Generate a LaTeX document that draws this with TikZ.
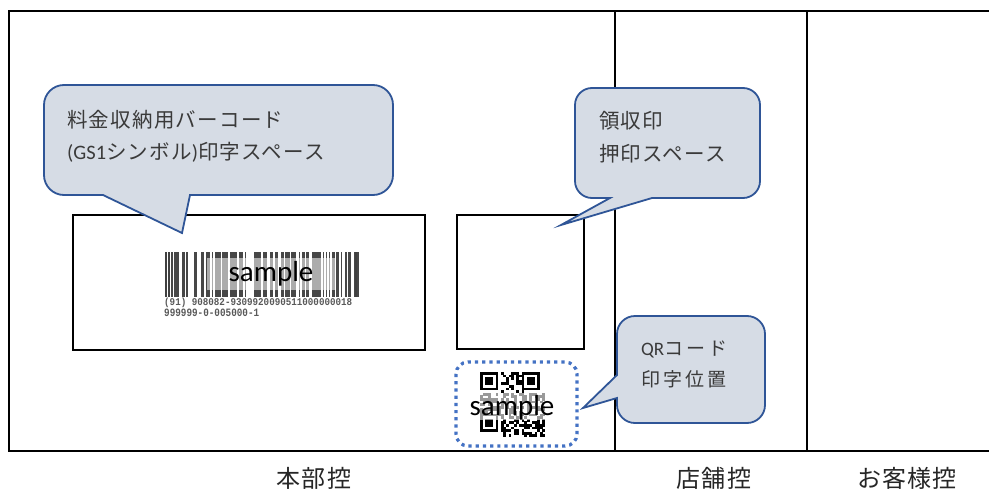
\documentclass[tikz,border=0pt]{standalone}
\usepackage{fontspec}
\usepackage{graphicx}
\setmainfont{Carlito}
\newfontfamily\jp[LetterSpace=6]{Noto Sans CJK JP}
\newfontfamily\jpq[LetterSpace=16]{Noto Sans CJK JP}
\newfontfamily\jpl[LetterSpace=5]{Noto Sans CJK JP}
\newfontfamily\lat{Carlito}
\newfontfamily\mono{Liberation Mono}
\definecolor{cfill}{HTML}{D6DCE5}
\definecolor{cline}{HTML}{2F5597}
\definecolor{qrblue}{HTML}{4472C4}
\definecolor{ctext}{HTML}{3A3A3A}
\tikzset{
  frameline/.style={line width=2.2pt, black},
  boxline/.style={draw=black, line width=1.9pt},
  callout/.style={fill=cfill, draw=cline, line width=1.8pt, line join=miter},
  ctxt/.style={anchor=west, inner sep=0pt, text=ctext, font=\fontsize{20.5}{24}\selectfont\jp},
  qtxt/.style={anchor=west, inner sep=0pt, text=ctext, font=\fontsize{19}{22}\selectfont\jpq},
  ltxt/.style={inner sep=0pt, text=black!85, font=\fontsize{24}{28}\selectfont\jpl},
  smp/.style={inner sep=0pt, text=black, font=\fontsize{29}{32}\selectfont\lat},
  digits/.style={anchor=west, inner sep=0pt, text=black!65, font=\fontsize{8.6}{9}\selectfont\mono\bfseries},
}
\begin{document}
\begin{tikzpicture}[x=1pt,y=-1pt]
\useasboundingbox (0,0) rectangle (989,490);
\fill[white] (0,0) rectangle (989,490);
% frame
\coordinate (tl) at (9,11);
\coordinate (tr) at (989,11);
\coordinate (bl) at (9,451);
\coordinate (br) at (989,451);
\coordinate (v1t) at (615,11);
\coordinate (v1b) at (615,451);
\coordinate (v2t) at (807,11);
\coordinate (v2b) at (807,451);
\draw[frameline] (tr) -- (tl) -- (bl) -- (br);
\draw[frameline] (v1t) -- (v1b);
\draw[frameline] (v2t) -- (v2b);
% boxes
\node[boxline, minimum width=352pt, minimum height=135pt, inner sep=0pt, anchor=north west] (bcbox) at (72,214) {};
\node[boxline, minimum width=127pt, minimum height=134pt, inner sep=0pt, anchor=north west] (stbox) at (456,214) {};
% barcode
\pgfmathsetseed{11}
\foreach \i in {0,...,128}{
  \pgfmathtruncatemacro\on{rnd<0.55}
  \ifnum\on=1 \fill[black!72] (165+\i*1.5,252) rectangle ++(1.6,45); \fi
}
\fill[black!75] (165,252) rectangle ++(1.6,45);
\fill[black!75] (168,252) rectangle ++(1.6,45);
\fill[black!75] (355,252) rectangle ++(1.6,45);
\fill[white, opacity=0.55] (207,258) rectangle (335,290);
\node[smp] (bcs) at (271,274) {sample};
\node[digits] (dg1) at (164,302.5) {\resizebox{188pt}{7.5pt}{(91) 908082-9309920090511000000018}};
\node[digits] (dg2) at (164,313) {\resizebox{95pt}{7.5pt}{999999-0-005000-1}};
% QR code
\pgfmathsetseed{5}
\foreach \r in {0,...,24}{
  \foreach \c in {0,...,24}{
    \pgfmathtruncatemacro\sk{or(or(and(\r<8,\c<8),and(\r<8,\c>16)),and(\r>16,\c<8))}
    \pgfmathtruncatemacro\on{rnd<0.5}
    \ifnum\sk=0 \ifnum\on=1 \fill[black] (480+\c*2.6,372+\r*2.6) rectangle ++(2.7,2.7); \fi\fi
  }
}
\foreach \fx/\fy in {480/372, 521.6/372, 480/413.6}{
  \fill[black] (\fx,\fy) rectangle ++(18.2,18.2);
  \fill[white] (\fx+2.6,\fy+2.6) rectangle ++(13,13);
  \fill[black] (\fx+5.2,\fy+5.2) rectangle ++(7.8,7.8);
}
\fill[white, opacity=0.6] (478,393) rectangle (548,420);
\node[smp] (qrs) at (512,408) {sample};
\draw[qrblue, line width=3.2pt, dash pattern=on 3.2pt off 4pt, rounded corners=12pt] (456,362) rectangle (577,446);
% callouts
\path[callout] (64,85) -- (373,85) arc[start angle=-90,end angle=0,radius=20] -- (393,175) arc[start angle=0,end angle=90,radius=20] -- (190,195) -- (182,233) -- (103,195) -- (64,195) arc[start angle=90,end angle=180,radius=20] -- (44,105) arc[start angle=180,end angle=270,radius=20] -- cycle;
\path[callout] (592,88) -- (743,88) arc[start angle=-90,end angle=0,radius=17] -- (760,181) arc[start angle=0,end angle=90,radius=17] -- (652,198) -- (561,225) -- (610,198) -- (592,198) arc[start angle=90,end angle=180,radius=17] -- (575,105) arc[start angle=180,end angle=270,radius=17] -- cycle;
\path[callout] (635,316) -- (747,316) arc[start angle=-90,end angle=0,radius=18] -- (765,405) arc[start angle=0,end angle=90,radius=18] -- (635,423) arc[start angle=90,end angle=180,radius=18] -- (617,398) -- (583,408) -- (617,375) -- (617,334) arc[start angle=180,end angle=270,radius=18] -- cycle;
% callout texts
\node[ctxt] (t1a) at (67,120) {料金収納用バーコード};
\node[ctxt] (t1b) at (67,152) {{\lat (GS1}シンボル{\lat )}印字スペース};
\node[ctxt] (t2a) at (599,121) {領収印};
\node[ctxt] (t2b) at (599,154) {押印スペース};
\node[qtxt] (t3a) at (641,349) {{\lat QR}コード};
\node[qtxt] (t3b) at (641,379) {印字位置};
% bottom labels
\node[ltxt] (l1) at (314,478) {本部控};
\node[ltxt] (l2) at (714,478) {店舗控};
\node[ltxt] (l3) at (907,478) {お客様控};
\end{tikzpicture}
\end{document}
